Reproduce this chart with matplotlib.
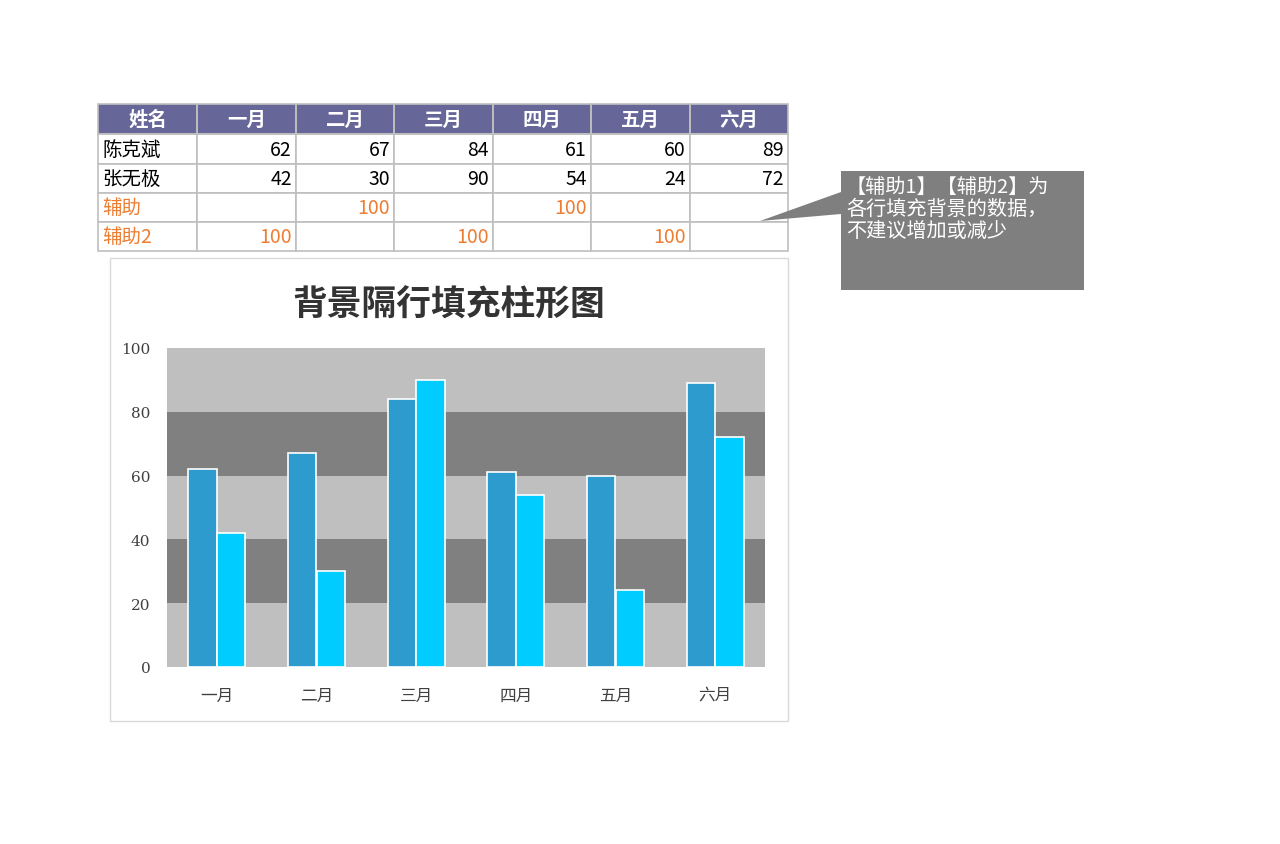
import matplotlib
matplotlib.use("Agg")
import matplotlib.pyplot as plt
from matplotlib.patches import Rectangle, Polygon

months = ["一月", "二月", "三月", "四月", "五月", "六月"]
names = ["陈克斌", "张无极", "辅助", "辅助2"]
s1 = [62, 67, 84, 61, 60, 89]
s2 = [42, 30, 90, 54, 24, 72]
aux1 = [None, 100, None, 100, None, None]
aux2 = [100, None, 100, None, 100, None]
band_edges = [0, 20, 40, 60, 80, 100]
yticks = [0, 20, 40, 60, 80, 100]

W, H = 1280, 845
fig = plt.figure(figsize=(12.8, 8.45), dpi=100)
CJK = "Noto Sans CJK SC"

def fx(x): return x / W
def fy(y): return 1 - y / H

def rect(x0, y0, x1, y1, fc, ec="none", lw=1.0):
    fig.add_artist(Rectangle((fx(x0), fy(y1)), fx(x1) - fx(x0), fy(y0) - fy(y1),
                             transform=fig.transFigure, fc=fc, ec=ec, lw=lw, zorder=0))

# table
cols = [98, 197, 296, 394, 493, 591, 690, 788]
rows = [105, 135, 165, 194, 223, 252]
rect(cols[0], rows[0], cols[-1], rows[1], "#666699")
for r in range(1, 5):
    for c in range(7):
        rect(cols[c], rows[r], cols[c+1], rows[r+1], "white", "#BFBFBF", 1.2)
for c in range(7):
    rect(cols[c], rows[0], cols[c+1], rows[1], "none", "#BFBFBF", 1.2)
hdr = ["姓名"] + months
for c, t in enumerate(hdr):
    fig.text(fx((cols[c]+cols[c+1])/2), fy((rows[0]+rows[1])/2), t, ha="center", va="center",
             color="white", fontsize=14, fontweight="bold", family=CJK)
data_rows = [s1, s2, aux1, aux2]
for r, (nm, vals) in enumerate(zip(names, data_rows)):
    col = "black" if r < 2 else "#ED7D31"
    yc = fy((rows[r+1]+rows[r+2])/2)
    fig.text(fx(cols[0]+4), yc, nm, ha="left", va="center", color=col, fontsize=14, family=CJK)
    for c, v in enumerate(vals):
        if v is not None:
            fig.text(fx(cols[c+2]-4), yc, str(v), ha="right", va="center", color=col,
                     fontsize=14, family=CJK)

# callout
fig.add_artist(Polygon([(fx(760), fy(222)), (fx(841), fy(193)), (fx(841), fy(215))],
                       transform=fig.transFigure, fc="#7F7F7F", ec="none"))
rect(841, 172, 1084, 291, "#7F7F7F")
fig.text(fx(846), fy(177), "【辅助1】【辅助2】为\n各行填充背景的数据，\n不建议增加或减少",
         ha="left", va="top", color="white", fontsize=14.5, family=CJK, linespacing=1.05)

# chart frame
rect(110, 259, 788, 722, "white", "#D9D9D9", 1.0)
fig.text(fx(449), fy(305), "背景隔行填充柱形图", ha="center", va="center",
         fontsize=25, fontweight="bold", color="#333333", family=CJK)

ax = fig.add_axes([fx(167), fy(668), fx(765) - fx(167), fy(349) - fy(668)])
ax.set_zorder(5)
for i in range(len(band_edges) - 1):
    ax.axhspan(band_edges[i], band_edges[i+1],
               color="#BFBFBF" if i % 2 == 0 else "#808080", zorder=0, lw=0)
x = list(range(len(months)))
bw = 0.285
ax.bar([i - bw/2 for i in x], s1, width=bw, color="#2E9BCF", edgecolor="white", lw=1.2, zorder=2)
ax.bar([i + bw/2 for i in x], s2, width=bw, color="#00CCFF", edgecolor="white", lw=1.2, zorder=2)
ax.set_xlim(-0.5, len(months) - 0.5)
ax.set_ylim(0, 100)
ax.set_yticks(yticks)
ax.set_yticklabels([str(t) for t in yticks], family="DejaVu Serif", fontsize=11, color="#404040")
ax.set_xticks(x)
ax.set_xticklabels(months, family=CJK, fontsize=12, color="#404040")
ax.tick_params(length=0, pad=12)
ax.tick_params(axis="x", pad=14)
for s in ax.spines.values():
    s.set_visible(False)

fig.savefig("out.png", dpi=100)
